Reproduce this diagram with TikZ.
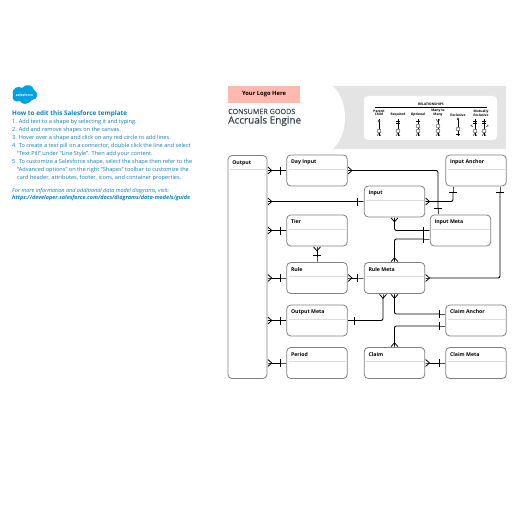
\documentclass[tikz,border=0pt]{standalone}
\usepackage{fontspec}
\setmainfont{Open Sans}
\newfontfamily\semifont[FakeBold=0.4]{Open Sans}
\usetikzlibrary{arrows.meta, calc}
\definecolor{cBlue}{HTML}{0F7CBF}
\definecolor{cCloud}{HTML}{00A1E0}
\definecolor{cTitle}{HTML}{3A4454}
\definecolor{cPink}{HTML}{FFB9AF}
\definecolor{cPanel}{HTML}{E4E4E4}
\definecolor{cCard}{HTML}{808080}
\definecolor{cRule}{HTML}{DDDDDD}
\tikzset{
    one/.tip={Bar[width=8pt, line width=.8pt, sep=0pt] Rectangle[length=6pt, width=.9pt]},
    many/.tip={Rectangle[length=5pt, width=.9pt, sep=-5pt] Straight Barb[reversed, length=4pt, width=7pt, line width=.8pt]},
    card/.style={draw=cCard, line width=.8pt, rounded corners=4pt, fill=white, inner sep=0pt,
                 minimum width=60.5pt, minimum height=31pt,
                 label={[cardname]north west:#1},
                 path picture={\draw[cRule, line width=.6pt]
                     ($(path picture bounding box.north west)+(2,14)$) -- ($(path picture bounding box.north east)+(-1,14)$);}},
    cardname/.style={anchor=north west, font=\bfseries\fontsize{5.2}{6}\selectfont, text=black,
                     inner sep=0pt, xshift=4.5pt, yshift=-5pt},
    link/.style={line width=.9pt, rounded corners=2pt, black},
    helptext/.style={anchor=north west, align=left, inner sep=0pt, text=cBlue,
                     font=\fontsize{5.6}{8}\selectfont},
    relname/.style={font=\bfseries\fontsize{3.3}{3.6}\selectfont, align=center, inner sep=0pt},
    relline/.style={line width=.3pt, black},
}

\begin{document}
\begin{tikzpicture}[x=1pt, y=-1pt]
\useasboundingbox (0,0) rectangle (516,516);

% left column
\fill[cCloud] (13,95) .. controls (11,88) and (19,85) .. (22,88) .. controls (26,83) and (33,85) .. (34,90)
    .. controls (39,92) and (38,100) .. (32,100) .. controls (28,105) and (22,105) .. (20,101)
    .. controls (16,103) and (11,100) .. (13,95) -- cycle;
\node[font=\bfseries\fontsize{3.4}{4}\selectfont, text=white, inner sep=0pt] (logo) at (24.5,95) {salesforce};
\node[helptext, font=\bfseries\fontsize{6.35}{8}\selectfont] (howTo) at (12,110.5) {How to edit this Salesforce template};
\node[helptext] (steps) at (12,119.3) {1. Add text to a shape by selecting it and typing.\\
2. Add and remove shapes on the canvas.\\
3. Hover over a shape and click on any red circle to add lines.\\
4. To create a text pill on a connector, double click the line and select\\
\hspace*{5pt}“Text Pill” under “Line Style”. Then add your content.\\
5. To customize a Salesforce shape, select the shape then refer to the\\
\hspace*{5pt}“Advanced options” on the right “Shapes” toolbar to customize the\\
\hspace*{5pt}card header, attributes, footer, icons, and container properties.};
\node[helptext, font=\itshape\fontsize{5.5}{7.2}\selectfont] (moreInfo) at (12,188.3) {For more information and additional data model diagrams, visit:\\
\bfseries https://developer.salesforce.com/docs/diagrams/data-models/guide};

% header
\node[fill=cPink, minimum width=72pt, minimum height=17pt, inner sep=0pt,
      font=\bfseries\fontsize{5.8}{8}\selectfont] (logoBox) at (264,94.5) {Your Logo Here};
\node[anchor=west, inner sep=0pt, text=cTitle, font=\semifont\fontsize{7.2}{8}\selectfont] (segment) at (228,111.5) {CONSUMER GOODS};
\node[anchor=west, inner sep=0pt, text=cTitle, font=\semifont\fontsize{10}{12}\selectfont] (title) at (228,121) {Accruals Engine};

% legend
\fill[cPanel] (333,86) .. controls (342,95) and (345,106) .. (345,117.5)
    .. controls (345,129) and (342,140) .. (333,149) -- (506,149) -- (506,86) -- cycle;
\fill[white, rounded corners=4pt] (364,96) rectangle (497,140);
\draw[line width=.9pt] (375,107) -- (487,107);
\node[relname] (relTitle) at (431,104.5) {RELATIONSHIPS};
\node[relname] (relA) at (379,113) {Parent\\Child};
\node[relname] (relB) at (398,115) {Required};
\node[relname] (relC) at (418,115) {Optional};
\node[relname] (relD) at (438,113) {Many to\\Many};
\node[relname] (relE) at (458,115) {Exclusive};
\node[relname] (relF) at (481,113) {Mutually\\Exclusive};
\foreach \x in {379,398,418,438,458,475,484}{
    \draw[relline] (\x,119) -- (\x,136);
}
\foreach \x in {379,398,418,438,475,484}{
    \draw[relline, fill=white] (\x,131) circle (2pt);
    \draw[relline] (\x-2,136) -- (\x,133) -- (\x+2,136);
}
\foreach \x in {418,438}{
    \draw[relline, fill=white] (\x,126) circle (2pt);
}
\draw[relline, fill=white] (458,129) circle (2pt);
\draw[relline] (456,134) -- (460,134);
\draw[relline, fill=white] (379,121) circle (1.2pt);
\draw[relline, fill=white] (458,119) circle (1.2pt);
\foreach \x in {398,418,475,484}{
    \draw[relline] (\x-2,121) -- (\x+2,121);
}
\draw[relline] (396,123) -- (400,123);
\draw[relline] (436,119) -- (438,122) -- (440,119);
\draw[relline] (473,123) -- (477,123);
\draw[relline] (482,123) -- (486,123);
\draw[relline, rounded corners=1pt] (472,125) -- (470,125) -- (473,127);
\draw[relline, rounded corners=1pt] (487,125) -- (489,125) -- (486,127);

% cards
\node[card=Output, minimum width=39pt, minimum height=223pt] (output) at (247.5,267) {};
\node[card=Day Input] (dayInput) at (317,170.5) {};
\node[card=Input] (input) at (394.5,201.5) {};
\node[card=Input Anchor] (inputAnchor) at (476,170.5) {};
\node[card=Input Meta] (inputMeta) at (460.5,230.5) {};
\node[card=Tier] (tier) at (317,230.5) {};
\node[card=Rule] (rule) at (317,278) {};
\node[card=Rule Meta] (ruleMeta) at (394.5,278) {};
\node[card=Output Meta] (outputMeta) at (317,320.5) {};
\node[card=Claim Anchor] (claimAnchor) at (476,320.5) {};
\node[card=Period] (period) at (317,363) {};
\node[card=Claim] (claim) at (394.5,363) {};
\node[card=Claim Meta] (claimMeta) at (476,363) {};

% links from the tall card
\draw[link, {many}-{one}] (output.east |- dayInput) -- (dayInput.west);
\draw[link, {many}-{one}] (output.east |- input) -- (input.west);
\draw[link, {many}-{one}] (output.east |- tier) -- (tier.west);
\draw[link, {many}-{one}] (output.east |- rule) -- (rule.west);
\draw[link, {many}-{one}] (output.east |- outputMeta) -- (outputMeta.west);
\draw[link, {many}-{one}] (output.east |- period) -- (period.west);

% links between the rest
\draw[link, {many}-{one}] (dayInput.east) -| ([xshift=-22.5pt]inputMeta.north);
\draw[link, {many}-{one}] (input.east) -| ([xshift=-23pt]inputAnchor.south);
\draw[link, {many}-{one}] (input.south) |- (inputMeta.west);
\draw[link, {many}-{one}] (ruleMeta.north) |- ([yshift=-8.5pt]inputMeta.west);
\draw[link, {many}-{one}] (tier.south) -- (rule.north);
\draw[link, {many}-{one}] (rule.east) -- (ruleMeta.west);
\draw[link, {many}-{one}] (ruleMeta.east) -| ([xshift=24pt]inputAnchor.south);
\draw[link, {one}-{many}] (outputMeta.east) -| ([xshift=-11.5pt]ruleMeta.south);
\draw[link, {many}-{one}] (ruleMeta.south) |- ([yshift=6.5pt]claimAnchor.west);
\draw[link, {many}-{one}] (claim.north) |- ([yshift=-5.5pt]claimAnchor.west);
\draw[link, {many}-{one}] (claim.east) -- (claimMeta.west);

\end{tikzpicture}
\end{document}
